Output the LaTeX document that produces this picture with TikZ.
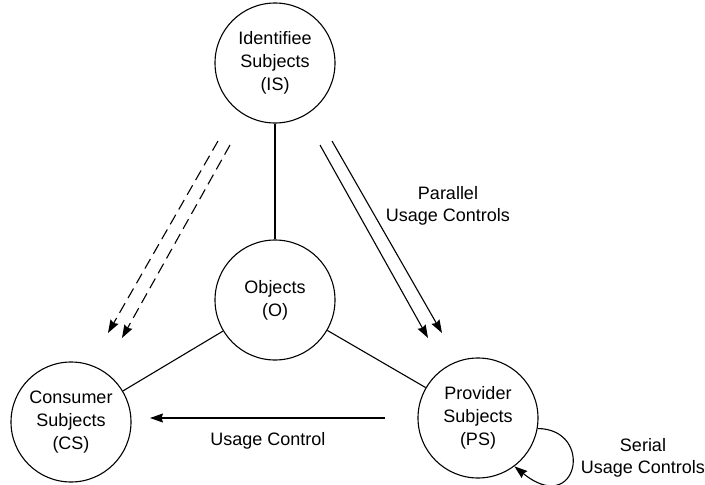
\documentclass[tikz,border=0pt]{standalone}
\usepackage{fontspec}
\setmainfont{Liberation Sans}
\usetikzlibrary{arrows.meta}
\begin{document}
\begin{tikzpicture}[x=1pt,y=-1pt,
  ent/.style={draw,circle,line width=1.1pt,minimum size=120pt,inner sep=0pt,align=center,font=\fontsize{18}{23}\selectfont},
  lbl/.style={align=center,font=\fontsize{18}{22}\selectfont},
  conn/.style={line width=1.1pt},
  arr/.style={line width=1.1pt,-{Stealth[length=13pt,width=9pt,inset=1.5pt]}},
  dsh/.style={arr,dash pattern=on 11pt off 6pt}]
\useasboundingbox (0,0) rectangle (705,485);
\node[ent] (IS) at (275,63) {Identifiee\\Subjects\\(IS)};
\node[ent] (O) at (275,300) {Objects\\(O)};
\node[ent] (CS) at (71,422) {Consumer\\Subjects\\(CS)};
\node[ent] (PS) at (478,418) {Provider\\Subjects\\(PS)};
\draw[conn] (IS) -- (O);
\draw[conn] (O) -- (CS);
\draw[conn] (O) -- (PS);
% parallel usage controls
\coordinate (p1s) at (320,145); \coordinate (p1e) at (428,338);
\coordinate (p2s) at (332,141); \coordinate (p2e) at (442,333);
\draw[arr] (p1s) -- (p1e);
\draw[arr] (p2s) -- (p2e);
% dashed arrows
\coordinate (d1s) at (218,141); \coordinate (d1e) at (108,333);
\coordinate (d2s) at (230,145); \coordinate (d2e) at (122,338);
\draw[dsh] (d1s) -- (d1e);
\draw[dsh] (d2s) -- (d2e);
% usage control
\coordinate (ucs) at (385,418);
\coordinate (uce) at (150,418);
\draw[arr] (ucs) -- (uce);
% serial loop
\draw[arr] (PS.-10) .. controls (595,429) and (578,518) .. (PS.-53);
\node[lbl] (par) at (448,206) {Parallel\\Usage Controls};
\node[lbl] (uct) at (268,441) {Usage Control};
\node[lbl] (ser) at (643,458) {Serial\\Usage Controls};
\end{tikzpicture}
\end{document}
